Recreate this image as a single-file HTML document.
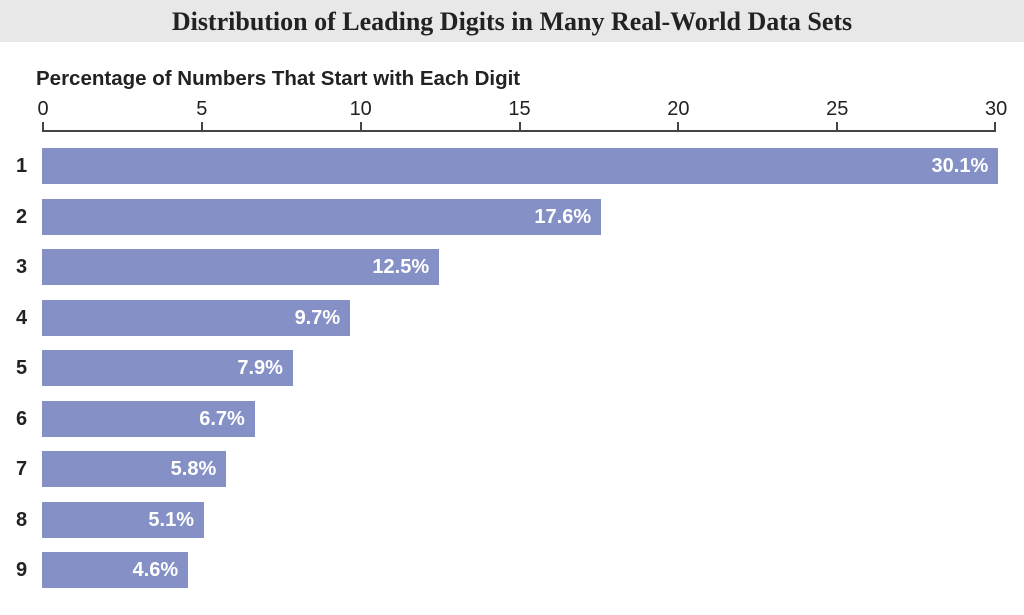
<!DOCTYPE html>
<html><head><style>
body{margin:0;width:1024px;height:615px;background:#fff;font-family:"Liberation Sans",sans-serif;position:relative;overflow:hidden}
.t{position:absolute;left:0;top:0;width:1024px;height:42px;background:#e8e8e8;text-align:center;font-family:"Liberation Serif",serif;font-weight:bold;font-size:26px;line-height:44px;color:#222}
.a{position:absolute;left:36px;top:67px;font-weight:bold;font-size:20.5px;color:#222}
.tk{position:absolute;top:98px;font-size:20px;color:#222;transform:translateX(-50%)}
.ax{position:absolute;left:42px;top:130px;width:954px;height:2px;background:#444}
.tm{position:absolute;top:122px;width:2px;height:9px;background:#444}
.b{position:absolute;left:42px;height:36px;background:#8591c6;color:#fff;font-weight:bold;font-size:20px;line-height:37px;text-align:right;box-sizing:border-box;padding-right:10px}
.l{position:absolute;left:16px;font-weight:bold;font-size:20px;color:#222;line-height:36px}
</style></head><body>
<div class="t">Distribution of Leading Digits in Many Real-World Data Sets</div>
<div class="a">Percentage of Numbers That Start with Each Digit</div>
<div class="ax"></div>
<div id="c"></div>
<script>
var c=document.getElementById('c'),h='';
var s=31.77;
[0,5,10,15,20,25,30].forEach(function(v){var x=42+v*s;h+='<div class="tk" style="left:'+(x+1)+'px">'+v+'</div><div class="tm" style="left:'+(x-(v==30?1:0))+'px"></div>';});
[30.1,17.6,12.5,9.7,7.9,6.7,5.8,5.1,4.6].forEach(function(v,i){var y=148+i*50.5;h+='<div class="b" style="top:'+y+'px;width:'+(v*s)+'px">'+v.toFixed(1)+'%</div><div class="l" style="top:'+y+'px">'+(i+1)+'</div>';});
c.innerHTML=h;
</script>
</body></html>
